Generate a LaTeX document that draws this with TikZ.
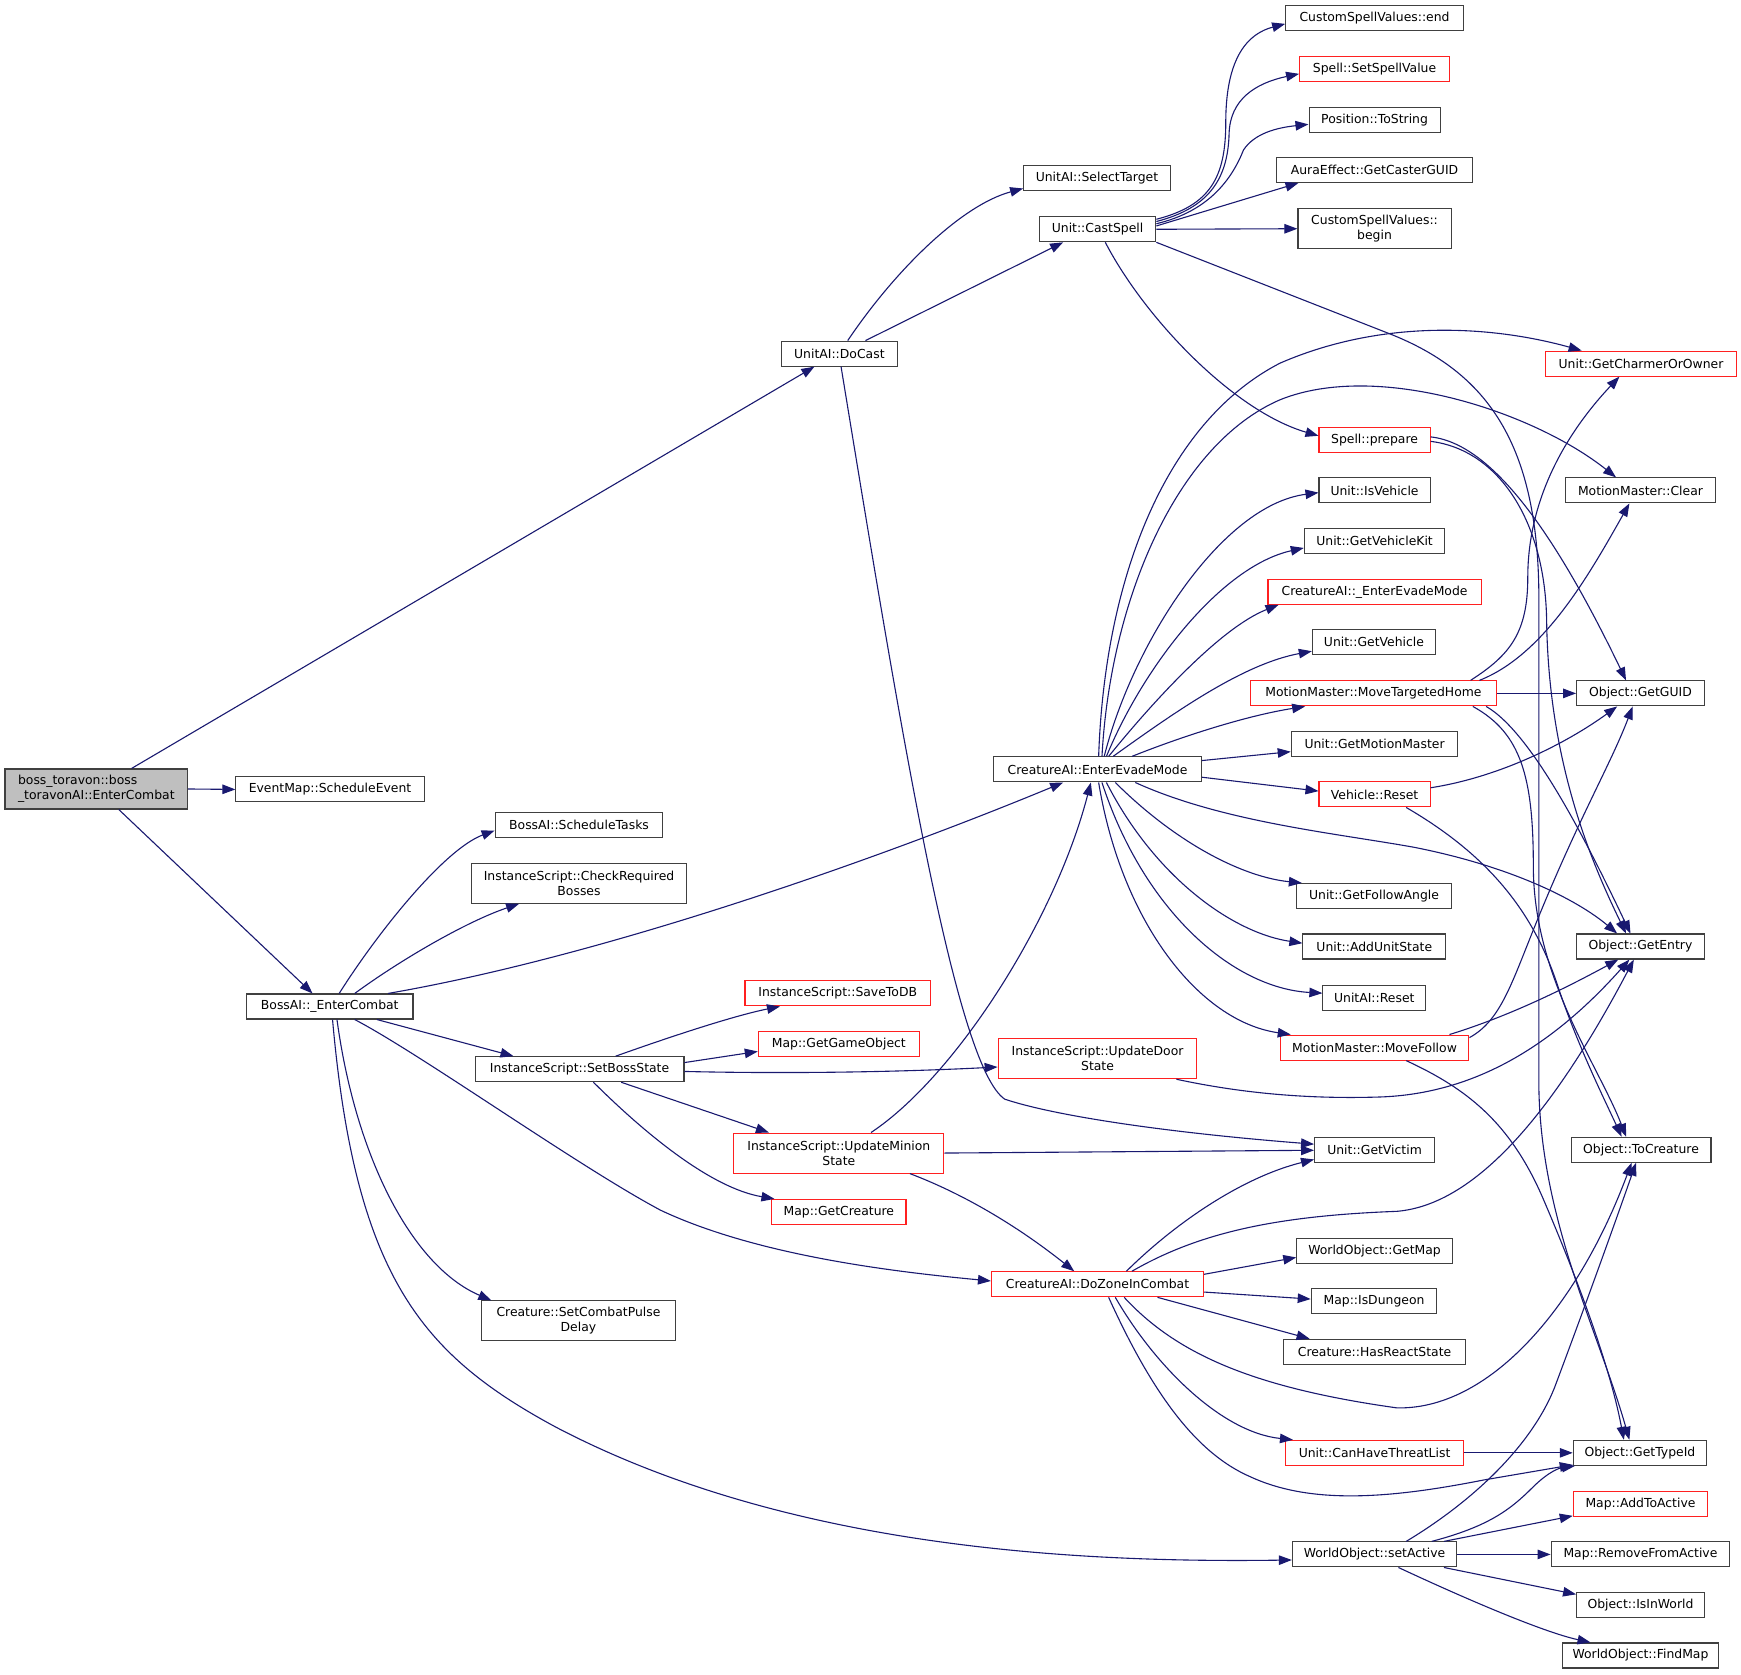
\documentclass[tikz,border=0pt]{standalone}
\usepackage{fontspec}
\setmainfont{DejaVu Sans}
\usetikzlibrary{arrows.meta,calc}
\definecolor{edgecol}{HTML}{191970}
\definecolor{nodegray}{HTML}{404040}
\definecolor{nodered}{HTML}{FF2020}
\definecolor{rootfill}{HTML}{BFBFBF}
\newcommand{\nodefont}{\fontsize{12.4pt}{15pt}\selectfont}
\tikzset{
  nd/.style={draw=nodegray, line width=1.1pt, inner sep=0pt, minimum height=25pt, font=\nodefont, align=center, fill=white},
  dbl/.style={minimum height=40pt},
  redn/.style={draw=nodered},
  bw/.style={minimum width=#1*1.1103pt},
  ed/.style={draw=edgecol, line width=1.1pt, -{Triangle[length=13pt,width=9.5pt]}, fill=none},
}
\begin{document}
\begin{tikzpicture}[x=1.1103pt, y=-1.1103pt]
\fill[white] (0,0) rectangle (1568.05,1508.6);
\path[use as bounding box] (0,0) rectangle (1568.05,1508.6);

% ---------- nodes ----------
\node[nd, dbl, bw=164.5, fill=rootfill, align=left] (boss) at (86.75,710.6) {boss\_toravon::boss\\\_toravonAI::EnterCombat};
\node[nd, bw=169.5] (eventmap) at (297.25,711) {EventMap::ScheduleEvent};
\node[nd, bw=104] (docast) at (756,318.5) {UnitAI::DoCast};
\node[nd, bw=132] (selecttarget) at (988,160) {UnitAI::SelectTarget};
\node[nd, bw=105] (castspell) at (988.5,206.5) {Unit::CastSpell};
\node[nd, bw=160] (cvend) at (1238,16.5) {CustomSpellValues::end};
\node[nd, redn, bw=135] (setspell) at (1238,62.5) {Spell::SetSpellValue};
\node[nd, bw=118] (tostring) at (1238,108) {Position::ToString};
\node[nd, bw=176] (aura) at (1238,153) {AuraEffect::GetCasterGUID};
\node[nd, dbl, bw=138] (cvbegin) at (1238,206) {CustomSpellValues::\\begin};
\node[nd, redn, bw=172] (charmer) at (1478,327.5) {Unit::GetCharmerOrOwner};
\node[nd, redn, bw=100] (prepare) at (1238,396.5) {Spell::prepare};
\node[nd, bw=135] (clear) at (1477.5,441.7) {MotionMaster::Clear};
\node[nd, bw=100] (isvehicle) at (1238,441.7) {Unit::IsVehicle};
\node[nd, bw=126.5] (vkit) at (1238,487.5) {Unit::GetVehicleKit};
\node[nd, redn, bw=192] (evadeu) at (1238,533) {CreatureAI::\_EnterEvadeMode};
\node[nd, bw=111] (getvehicle) at (1237.5,578.5) {Unit::GetVehicle};
\node[nd, redn, bw=222] (movehome) at (1237,624.5) {MotionMaster::MoveTargetedHome};
\node[nd, bw=115] (getguid) at (1477.5,624.5) {Object::GetGUID};
\node[nd, bw=187] (evade) at (988.5,693) {CreatureAI::EnterEvadeMode};
\node[nd, bw=150] (motionm) at (1238,670) {Unit::GetMotionMaster};
\node[nd, redn, bw=100] (vreset) at (1238,715.5) {Vehicle::Reset};
\node[nd, bw=139] (follow) at (1237.5,807) {Unit::GetFollowAngle};
\node[nd, bw=128.5] (addstate) at (1237.75,852.5) {Unit::AddUnitState};
\node[nd, bw=92.5] (uaireset) at (1237.75,898.5) {UnitAI::Reset};
\node[nd, redn, bw=170] (movefollow) at (1238,943.5) {MotionMaster::MoveFollow};
\node[nd, bw=115] (getentry) at (1477.5,852.5) {Object::GetEntry};
\node[nd, bw=151] (sched) at (521.5,743) {BossAI::ScheduleTasks};
\node[nd, dbl, bw=193] (checkb) at (521.5,795.5) {InstanceScript::CheckRequired\\Bosses};
\node[nd, bw=150] (bossai) at (297,906.5) {BossAI::\_EnterCombat};
\node[nd, redn, bw=167] (savedb) at (754.5,894.7) {InstanceScript::SaveToDB};
\node[nd, redn, bw=145] (getgo) at (755.5,940) {Map::GetGameObject};
\node[nd, bw=188] (setboss) at (522,963) {InstanceScript::SetBossState};
\node[nd, dbl, redn, bw=179] (updoor) at (988.5,953.5) {InstanceScript::UpdateDoor\\State};
\node[nd, dbl, redn, bw=189] (upminion) at (755.5,1038.5) {InstanceScript::UpdateMinion\\State};
\node[nd, bw=108] (getvictim) at (1238,1035.5) {Unit::GetVictim};
\node[nd, bw=126] (tocreature) at (1478,1035.5) {Object::ToCreature};
\node[nd, redn, bw=121] (getcreature) at (755.5,1091.5) {Map::GetCreature};
\node[nd, redn, bw=191] (dozone) at (988.5,1156.7) {CreatureAI::DoZoneInCombat};
\node[nd, bw=140] (getmap) at (1238,1126.5) {WorldObject::GetMap};
\node[nd, bw=113] (isdungeon) at (1237.5,1172) {Map::IsDungeon};
\node[nd, bw=164] (hasreact) at (1238,1217.5) {Creature::HasReactState};
\node[nd, dbl, bw=174] (pulse) at (521,1189.7) {Creature::SetCombatPulse\\Delay};
\node[nd, redn, bw=160] (canthreat) at (1238,1308.5) {Unit::CanHaveThreatList};
\node[nd, bw=120] (typeid) at (1477,1308.5) {Object::GetTypeId};
\node[nd, redn, bw=121] (addactive) at (1477.5,1354.5) {Map::AddToActive};
\node[nd, bw=148] (setactive) at (1238,1400) {WorldObject::setActive};
\node[nd, bw=161] (removeactive) at (1477.5,1400) {Map::RemoveFromActive};
\node[nd, bw=115] (isinworld) at (1477.5,1445.7) {Object::IsInWorld};
\node[nd, bw=141] (findmap) at (1477.5,1491) {WorldObject::FindMap};

% ---------- edges ----------
% root
\draw[ed] ($(boss.north west)+(114.5,0)$) -- ($(docast.south west)+(30,0)$);
\draw[ed] (boss.east) -- (eventmap.west);
\draw[ed] ($(boss.south west)+(103,0)$) -- ($(bossai.north west)+(60,0)$);

% DoCast
\draw[ed] ($(docast.north west)+(60,0)$) .. controls (805,245) and (865,185) .. ($(selecttarget.south west)+(0,-2)$);
\draw[ed] ($(docast.north west)+(76,0)$) -- ($(castspell.south west)+(22,0)$);
\draw[ed] ($(docast.south west)+(54,0)$) .. controls (810,650) and (860,960) .. (905,990) .. controls (950,1005) and (1050,1020) .. ($(getvictim.west)+(0,-5)$);

% CastSpell
\draw[ed] ($(castspell.east)+(0,-9)$) .. controls (1090,185) and (1104,160) .. (1104,110) .. controls (1104,50) and (1125,30) .. ($(cvend.west)+(0,5)$);
\draw[ed] ($(castspell.east)+(0,-7)$) .. controls (1090,187) and (1106,160) .. (1107,120) .. controls (1108,90) and (1130,75) .. ($(setspell.west)+(0,4)$);
\draw[ed] ($(castspell.east)+(0,-5)$) .. controls (1090,190) and (1110,160) .. (1120,135) .. controls (1130,120) and (1150,115) .. ($(tostring.west)+(0,4)$);
\draw[ed] ($(castspell.east)+(0,-3)$) -- ($(aura.south west)+(20,0)$);
\draw[ed] (castspell.east) -- (cvbegin.west);
\draw[ed] ($(castspell.south west)+(60,0)$) .. controls (1030,285) and (1110,370) .. ($(prepare.west)+(0,-4)$);
\draw[ed] (castspell.south east) -- (1250,300) .. controls (1340,335) and (1386,400) .. (1386,540) -- (1386,980) .. controls (1388,1100) and (1440,1200) .. ($(typeid.north west)+(51,0)$);

% Spell::prepare
\draw[ed] ($(prepare.east)+(0,-3)$) .. controls (1350,400) and (1410,500) .. ($(getguid.north west)+(45,0)$);
\draw[ed] ($(prepare.east)+(0,1)$) .. controls (1350,405) and (1392,470) .. (1393,560) .. controls (1395,690) and (1435,780) .. ($(getentry.north west)+(45,0)$);

% EnterEvadeMode
\draw[ed] ($(evade.north west)+(95,0)$) .. controls (995,520) and (1050,380) .. (1153,327) .. controls (1250,285) and (1350,295) .. ($(charmer.north west)+(33,0)$);
\draw[ed] ($(evade.north west)+(98,0)$) .. controls (1000,540) and (1060,400) .. (1153,360) .. controls (1240,325) and (1380,370) .. ($(clear.north west)+(46,0)$);
\draw[ed] ($(evade.north west)+(100,0)$) .. controls (1020,580) and (1100,455) .. ($(isvehicle.west)+(0,2)$);
\draw[ed] ($(evade.north west)+(102,0)$) .. controls (1030,600) and (1100,510) .. ($(vkit.west)+(0,6)$);
\draw[ed] ($(evade.north west)+(104,0)$) .. controls (1040,630) and (1100,565) .. ($(evadeu.south west)+(10,0)$);
\draw[ed] ($(evade.north west)+(108,0)$) .. controls (1060,640) and (1120,598) .. ($(getvehicle.west)+(0,8)$);
\draw[ed] ($(evade.north west)+(125,0)$) .. controls (1060,665) and (1120,645) .. ($(movehome.south west)+(50,0)$);
\draw[ed] ($(evade.east)+(0,-8)$) -- ($(motionm.west)+(0,7)$);
\draw[ed] ($(evade.east)+(0,7)$) -- ($(vreset.west)+(0,-3)$);
\draw[ed] ($(evade.south west)+(128,0)$) .. controls (1100,740) and (1200,750) .. (1273,763) .. controls (1360,780) and (1420,810) .. ($(getentry.north west)+(37,0)$);
\draw[ed] ($(evade.south west)+(110,0)$) .. controls (1060,760) and (1120,790) .. ($(follow.north west)+(5,0)$);
\draw[ed] ($(evade.south west)+(102,0)$) .. controls (1040,790) and (1110,840) .. ($(addstate.west)+(0,-3)$);
\draw[ed] ($(evade.south west)+(98,0)$) .. controls (1030,820) and (1110,890) .. ($(uaireset.west)+(0,-4)$);
\draw[ed] ($(evade.south west)+(95,0)$) .. controls (1010,830) and (1080,920) .. ($(movefollow.north west)+(10,0)$);

% MoveTargetedHome
\draw[ed] ($(movehome.north east)+(-24,0)$) .. controls (1360,590) and (1376,570) .. (1376,520) .. controls (1376,440) and (1420,380) .. ($(charmer.south west)+(67,0)$);
\draw[ed] ($(movehome.north east)+(-16,0)$) .. controls (1390,590) and (1430,520) .. ($(clear.south west)+(58,0)$);
\draw[ed] (movehome.east) -- (getguid.west);
\draw[ed] ($(movehome.south east)+(-10,0)$) .. controls (1380,660) and (1430,760) .. ($(getentry.north west)+(49,0)$);
\draw[ed] ($(movehome.south east)+(-22,0)$) .. controls (1370,660) and (1381,700) .. (1381,780) .. controls (1381,880) and (1440,960) .. ($(tocreature.north west)+(50,0)$);

% Vehicle::Reset
\draw[ed] ($(vreset.east)+(0,-6)$) .. controls (1350,700) and (1410,670) .. ($(getguid.south west)+(37,0)$);
\draw[ed] ($(vreset.south west)+(79,0)$) .. controls (1340,770) and (1380,820) .. (1402,885) .. controls (1420,940) and (1445,990) .. ($(tocreature.north west)+(46,0)$);

% MoveFollow
\draw[ed] ($(movefollow.east)+(0,-9)$) .. controls (1350,920) and (1360,890) .. (1380,840) .. controls (1420,740) and (1450,690) .. ($(getguid.south west)+(51,0)$);
\draw[ed] ($(movefollow.north east)+(-18,0)$) .. controls (1360,915) and (1410,890) .. ($(getentry.south west)+(38,0)$);
\draw[ed] ($(movefollow.south west)+(114,0)$) .. controls (1320,980) and (1360,1010) .. (1390,1080) .. controls (1420,1150) and (1450,1230) .. ($(typeid.north west)+(46,0)$);

% UpdateDoorState
\draw[ed] ($(updoor.south west)+(161,0)$) .. controls (1120,985) and (1180,990) .. (1243,988) .. controls (1330,985) and (1400,940) .. ($(getentry.south west)+(48,0)$);

% BossAI::_EnterCombat
\draw[ed] ($(bossai.north west)+(84,0)$) .. controls (340,840) and (400,765) .. ($(sched.west)+(0,5)$);
\draw[ed] ($(bossai.north west)+(98,0)$) .. controls (360,865) and (420,830) .. ($(checkb.south west)+(43,0)$);
\draw[ed] ($(bossai.north west)+(128,0)$) .. controls (550,860) and (800,770) .. ($(evade.south west)+(63,0)$);
\draw[ed] ($(bossai.south west)+(118,0)$) -- ($(setboss.north west)+(35,0)$);
\draw[ed] ($(bossai.south west)+(98,0)$) .. controls (380,950) and (520,1050) .. (595,1090) .. controls (680,1130) and (800,1145) .. ($(dozone.west)+(0,-3)$);
\draw[ed] ($(bossai.south west)+(82,0)$) .. controls (320,1040) and (370,1140) .. ($(pulse.north west)+(9,0)$);
\draw[ed] ($(bossai.south west)+(78,0)$) .. controls (320,1150) and (380,1220) .. (500,1285) .. controls (700,1390) and (950,1408) .. ($(setactive.west)+(0,5)$);

% SetBossState
\draw[ed] ($(setboss.north west)+(127,0)$) .. controls (600,935) and (660,915) .. ($(savedb.south west)+(32,0)$);
\draw[ed] ($(setboss.east)+(0,-6)$) -- ($(getgo.west)+(0,7)$);
\draw[ed] ($(setboss.east)+(0,2)$) .. controls (700,967) and (800,966) .. ($(updoor.west)+(0,7.5)$);
\draw[ed] ($(setboss.south west)+(132,0)$) -- ($(upminion.north west)+(32,0)$);
\draw[ed] ($(setboss.south west)+(107,0)$) .. controls (580,1020) and (640,1070) .. ($(getcreature.north west)+(3,0)$);

% UpdateMinionState
\draw[ed] ($(upminion.north west)+(124,0)$) .. controls (860,970) and (950,830) .. ($(evade.south west)+(88,0)$);
\draw[ed] (upminion.east) -- ($(getvictim.west)+(0,0.5)$);
\draw[ed] ($(upminion.south west)+(159,0)$) .. controls (880,1080) and (930,1115) .. ($(dozone.north west)+(75,0)$);

% DoZoneInCombat
\draw[ed] ($(dozone.north west)+(122,0)$) .. controls (1060,1100) and (1120,1060) .. ($(getvictim.south west)+(0,-3)$);
\draw[ed] ($(dozone.north west)+(127,0)$) .. controls (1080,1110) and (1150,1095) .. (1258,1091) .. controls (1330,1085) and (1400,1000) .. ($(getentry.south west)+(52,0)$);
\draw[ed] ($(dozone.east)+(0,-9)$) -- ($(getmap.west)+(0,6)$);
\draw[ed] ($(dozone.east)+(0,7)$) -- ($(isdungeon.west)+(0,-2)$);
\draw[ed] ($(dozone.south west)+(150,0)$) -- ($(hasreact.north west)+(24,0)$);
\draw[ed] ($(dozone.south west)+(120,0)$) .. controls (1060,1220) and (1130,1250) .. (1258,1268) .. controls (1340,1270) and (1420,1180) .. ($(tocreature.south west)+(55,0)$);
\draw[ed] ($(dozone.south west)+(112,0)$) .. controls (1040,1230) and (1100,1290) .. ($(canthreat.north west)+(7,0)$);
\draw[ed] ($(dozone.south west)+(106,0)$) .. controls (1040,1260) and (1080,1310) .. (1126,1330) .. controls (1180,1355) and (1250,1350) .. (1336,1333) -- ($(typeid.south west)+(0,-1)$);

% CanHaveThreatList
\draw[ed] (canthreat.east) -- (typeid.west);

% setActive
\draw[ed] ($(setactive.north west)+(103,0)$) .. controls (1330,1350) and (1380,1300) .. (1400,1250) .. controls (1430,1170) and (1455,1100) .. ($(tocreature.south west)+(59,0)$);
\draw[ed] ($(setactive.north west)+(126,0)$) .. controls (1340,1375) and (1360,1360) .. (1380,1340) .. controls (1395,1325) and (1405,1322) .. ($(typeid.south west)+(2,0)$);
\draw[ed] ($(setactive.north east)+(-12,0)$) -- ($(addactive.south west)+(0,-1)$);
\draw[ed] (setactive.east) -- (removeactive.west);
\draw[ed] ($(setactive.south east)+(-12,0)$) -- ($(isinworld.north west)+(0,2)$);
\draw[ed] ($(setactive.south west)+(96,0)$) .. controls (1320,1440) and (1390,1470) .. ($(findmap.north west)+(26,0)$);
\end{tikzpicture}
\end{document}
